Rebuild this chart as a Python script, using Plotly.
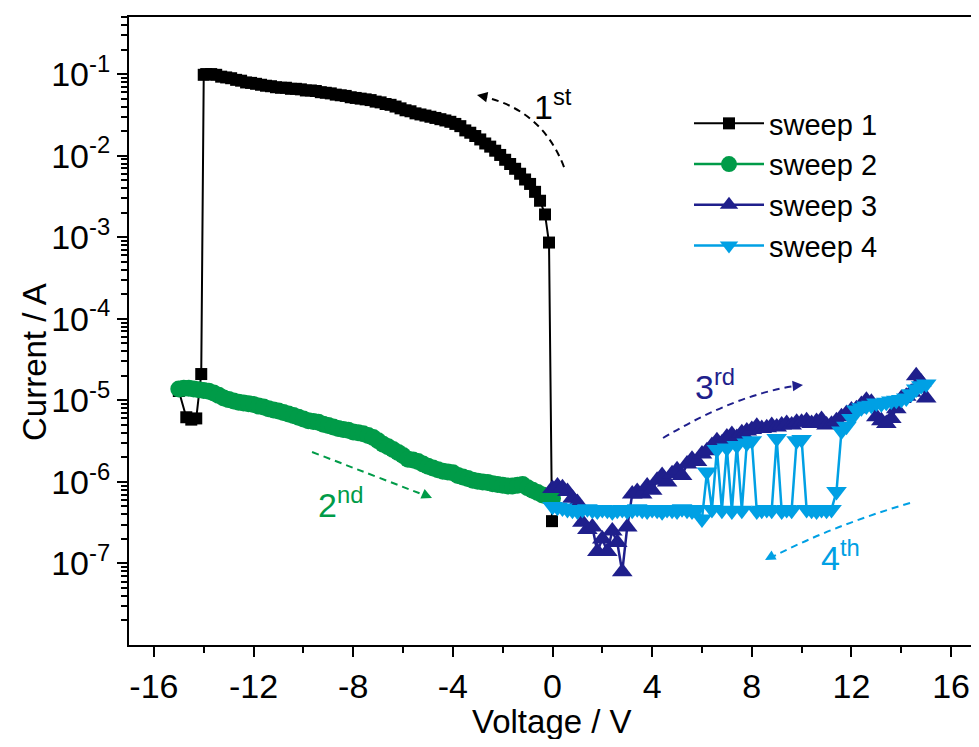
import plotly.graph_objects as go

# ---------------- data ----------------
sweep1_v = [-0.02, -0.14, -0.3, -0.5, -0.7, -0.9, -1.1, -1.3, -1.5, -1.7, -1.9, -2.1, -2.3, -2.5, -2.7,
            -2.9, -3.1, -3.3, -3.5, -3.7, -3.9, -4.1, -4.3, -4.5, -4.7, -4.9, -5.1, -5.3, -5.5, -5.7,
            -5.9, -6.1, -6.3, -6.5, -6.7, -6.9, -7.1, -7.3, -7.5, -7.7, -7.9, -8.1, -8.3, -8.5, -8.7,
            -8.9, -9.1, -9.3, -9.5, -9.7, -9.9, -10.1, -10.3, -10.5, -10.7, -10.9, -11.1, -11.3, -11.5,
            -11.7, -11.9, -12.1, -12.3, -12.5, -12.7, -12.9, -13.1, -13.3, -13.5, -13.7, -13.9, -14.0,
            -14.1, -14.3, -14.5, -14.7, -15.0]
sweep1_i = [3.3e-7, 8.6e-4, 1.9e-3, 2.8e-3, 3.6e-3, 4.5e-3, 5.1e-3, 6.0e-3, 6.9e-3, 7.9e-3, 8.9e-3,
            1.02e-2, 1.15e-2, 1.29e-2, 1.41e-2, 1.58e-2, 1.74e-2, 1.91e-2, 2.04e-2, 2.3e-2, 2.45e-2,
            2.6e-2, 2.7e-2, 2.8e-2, 2.9e-2, 3.0e-2, 3.1e-2, 3.2e-2, 3.3e-2, 3.5e-2, 3.6e-2, 3.8e-2,
            4.0e-2, 4.2e-2, 4.3e-2, 4.5e-2, 4.6e-2, 4.8e-2, 4.9e-2, 5.0e-2, 5.1e-2, 5.2e-2, 5.4e-2,
            5.5e-2, 5.6e-2, 5.8e-2, 5.9e-2, 6.0e-2, 6.2e-2, 6.3e-2, 6.3e-2, 6.5e-2, 6.6e-2, 6.6e-2,
            6.8e-2, 6.8e-2, 6.9e-2, 7.1e-2, 7.2e-2, 7.4e-2, 7.6e-2, 7.8e-2, 7.9e-2, 8.3e-2, 8.5e-2,
            8.9e-2, 9.1e-2, 9.3e-2, 9.8e-2, 1.0e-1, 1.0e-1, 9.8e-2,
            2.1e-5, 6.0e-6, 5.8e-6, 6.2e-6, 1.3e-5]

sweep2_v = [-15.0, -14.8, -14.6, -14.4, -14.2, -14.0, -13.8, -13.6, -13.4, -13.2, -13.0, -12.8, -12.6,
            -12.4, -12.2, -12.0, -11.8, -11.6, -11.4, -11.2, -11.0, -10.8, -10.6, -10.4, -10.2, -10.0,
            -9.8, -9.6, -9.4, -9.2, -9.0, -8.8, -8.6, -8.4, -8.2, -8.0, -7.8, -7.6, -7.4, -7.2, -7.0,
            -6.8, -6.6, -6.4, -6.2, -6.0, -5.8, -5.6, -5.4, -5.2, -5.0, -4.8, -4.6, -4.4, -4.2, -4.0,
            -3.8, -3.6, -3.4, -3.2, -3.0, -2.8, -2.6, -2.4, -2.2, -2.0, -1.8, -1.6, -1.4, -1.2, -1.0,
            -0.8, -0.6, -0.4, -0.2, 0.0]
sweep2_i = [1.38e-5, 1.41e-5, 1.41e-5, 1.38e-5, 1.35e-5, 1.32e-5, 1.29e-5, 1.23e-5, 1.15e-5, 1.07e-5,
            1.02e-5, 9.8e-6, 9.5e-6, 9.3e-6, 9.1e-6, 8.9e-6, 8.5e-6, 8.3e-6, 7.9e-6, 7.6e-6, 7.4e-6,
            7.1e-6, 6.8e-6, 6.5e-6, 6.2e-6, 5.9e-6, 5.6e-6, 5.5e-6, 5.4e-6, 5.1e-6, 4.9e-6, 4.7e-6,
            4.5e-6, 4.4e-6, 4.3e-6, 4.1e-6, 4.0e-6, 3.9e-6, 3.7e-6, 3.5e-6, 3.2e-6, 2.9e-6, 2.7e-6,
            2.5e-6, 2.3e-6, 2.1e-6, 1.9e-6, 1.86e-6, 1.78e-6, 1.66e-6, 1.55e-6, 1.48e-6, 1.41e-6,
            1.35e-6, 1.32e-6, 1.29e-6, 1.2e-6, 1.15e-6, 1.1e-6, 1.05e-6, 1.02e-6, 1.0e-6, 9.8e-7,
            9.5e-7, 9.3e-7, 9.1e-7, 8.9e-7, 8.9e-7, 9.1e-7, 9.3e-7, 8.5e-7, 7.9e-7, 7.4e-7, 6.9e-7,
            6.6e-7, 6.3e-7]

sweep3_v = [0.0, 0.2, 0.4, 0.6, 0.8, 1.0, 1.2, 1.4, 1.6, 1.8, 2.0, 2.2, 2.4, 2.6, 2.8, 3.0, 3.2, 3.4,
            3.6, 3.8, 4.0, 4.2, 4.4, 4.6, 4.8, 5.0, 5.2, 5.4, 5.6, 5.8, 6.0, 6.2, 6.4, 6.6, 6.8, 7.0,
            7.2, 7.4, 7.6, 7.8, 8.0, 8.2, 8.4, 8.6, 8.8, 9.0, 9.2, 9.4, 9.6, 9.8, 10.0, 10.2, 10.4,
            10.6, 10.8, 11.0, 11.2, 11.4, 11.6, 11.8, 12.0, 12.2, 12.4, 12.6, 12.8, 13.0, 13.2, 13.4,
            13.6, 13.8, 14.0, 14.2, 14.4, 14.6, 14.8, 15.0]
sweep3_i = [8.3e-7, 8.9e-7, 8.5e-7, 7.6e-7, 6.3e-7, 5.6e-7, 3.2e-7, 2.6e-7, 2.8e-7, 1.4e-7, 2.0e-7,
            1.4e-7, 2.5e-7, 1.8e-7, 7.9e-8, 2.8e-7, 7.1e-7, 7.6e-7, 7.1e-7, 8.9e-7, 7.9e-7, 1.05e-6,
            1.2e-6, 1.0e-6, 1.26e-6, 1.41e-6, 1.2e-6, 1.66e-6, 1.9e-6, 1.78e-6, 2.2e-6, 2.4e-6,
            2.8e-6, 3.2e-6, 3.0e-6, 3.55e-6, 3.8e-6, 3.5e-6, 4.0e-6, 4.2e-6, 4.4e-6, 4.8e-6, 4.5e-6,
            4.6e-6, 4.9e-6, 4.7e-6, 5.0e-6, 5.2e-6, 5.0e-6, 5.4e-6, 5.4e-6, 5.6e-6, 5.2e-6, 5.5e-6,
            5.8e-6, 5.0e-6, 5.1e-6, 5.6e-6, 6.3e-6, 6.9e-6, 7.6e-6, 7.9e-6, 8.9e-6, 1.0e-5, 9.5e-6,
            6.3e-6, 5.6e-6, 5.2e-6, 6.0e-6, 7.9e-6, 1.05e-5, 1.12e-5, 1.26e-5, 2.0e-5, 1.66e-5,
            1.07e-5]

sweep4_v = [15.0, 14.8, 14.6, 14.4, 14.2, 14.0, 13.8, 13.6, 13.4, 13.2, 13.0, 12.8, 12.6, 12.4, 12.2,
            12.0, 11.8, 11.6, 11.4, 11.2, 11.0, 10.8, 10.6, 10.4, 10.2, 10.0, 9.8, 9.6, 9.4, 9.2, 9.0,
            8.8, 8.6, 8.4, 8.2, 8.0, 7.8, 7.6, 7.4, 7.2, 7.0, 6.8, 6.6, 6.4, 6.2, 6.0, 5.8, 5.6, 5.4,
            5.2, 5.0, 4.8, 4.6, 4.4, 4.2, 4.0, 3.8, 3.6, 3.4, 3.2, 3.0, 2.8, 2.6, 2.4, 2.2, 2.0, 1.8,
            1.6, 1.4, 1.2, 1.0, 0.8, 0.6, 0.4, 0.2, 0.0]
sweep4_i = [1.58e-5, 1.51e-5, 1.38e-5, 1.2e-5, 1.07e-5, 1.02e-5, 1.0e-5, 9.8e-6, 9.5e-6, 9.1e-6,
            9.3e-6, 8.7e-6, 8.5e-6, 8.1e-6, 7.6e-6, 6.0e-6, 4.8e-6, 4.2e-6, 7.6e-7, 4.6e-7, 4.5e-7,
            4.6e-7, 4.4e-7, 4.5e-7, 4.6e-7, 3.3e-6, 3.2e-6, 4.5e-7, 4.6e-7, 4.4e-7, 3.4e-6, 4.5e-7,
            4.6e-7, 4.5e-7, 4.4e-7, 3.2e-6, 3.0e-6, 4.5e-7, 2.8e-6, 4.4e-7, 2.6e-6, 4.5e-7, 2.5e-6,
            4.6e-7, 1.32e-6, 3.5e-7, 4.6e-7, 4.4e-7, 4.5e-7, 4.7e-7, 4.4e-7, 4.5e-7, 4.6e-7, 4.3e-7,
            4.5e-7, 4.6e-7, 4.4e-7, 4.5e-7, 4.7e-7, 4.5e-7, 4.4e-7, 4.6e-7, 4.5e-7, 4.3e-7, 4.5e-7,
            4.6e-7, 4.4e-7, 4.5e-7, 4.7e-7, 4.6e-7, 4.4e-7, 4.5e-7, 4.6e-7, 4.8e-7, 4.9e-7, 5.0e-7]

x_tickvals = [-16, -12, -8, -4, 0, 4, 8, 12, 16]
x_ticktext = ["-16", "-12", "-8", "-4", "0", "4", "8", "12", "16"]
y_tickvals = [1e-7, 1e-6, 1e-5, 1e-4, 1e-3, 1e-2, 1e-1]
y_ticktext = ["10<sup>-7</sup>", "10<sup>-6</sup>", "10<sup>-5</sup>", "10<sup>-4</sup>",
              "10<sup>-3</sup>", "10<sup>-2</sup>", "10<sup>-1</sup>"]

C1, C2, C3, C4 = "#000000", "#009B48", "#1F1F8C", "#00A0E4"
FONT = "Arial, Liberation Sans, Helvetica, sans-serif"

# page has an 8px body margin: size the figure so it fits the 979x747 window
OFF = 8
W, H = 971, 731
ML, MR, MT, MB = 121, 3, 9, 94
PW, PH = W - ML - MR, H - MT - MB


def px(x):
    """page pixel x -> paper fraction"""
    return (x - OFF - ML) / PW


def py(y):
    """page pixel y -> paper fraction"""
    return (H - MB - (y - OFF)) / PH


fig = go.Figure()
fig.add_trace(go.Scatter(x=sweep1_v, y=sweep1_i, mode="lines+markers", name="sweep 1",
                         line=dict(color=C1, width=2),
                         marker=dict(symbol="square", size=12, color=C1)))
fig.add_trace(go.Scatter(x=sweep2_v, y=sweep2_i, mode="lines+markers", name="sweep 2",
                         line=dict(color=C2, width=2.5),
                         marker=dict(symbol="circle", size=17, color=C2)))
fig.add_trace(go.Scatter(x=sweep3_v, y=sweep3_i, mode="lines+markers", name="sweep 3",
                         line=dict(color=C3, width=2.5),
                         marker=dict(symbol="triangle-up", size=18, color=C3)))
fig.add_trace(go.Scatter(x=sweep4_v, y=sweep4_i, mode="lines+markers", name="sweep 4",
                         line=dict(color=C4, width=2.5),
                         marker=dict(symbol="triangle-down", size=18, color=C4)))


# dashed direction arrows (paper coordinates)
def qpath(p0, c, p1):
    return "M {:.4f},{:.4f} Q {:.4f},{:.4f} {:.4f},{:.4f}".format(
        px(p0[0]), py(p0[1]), px(c[0]), py(c[1]), px(p1[0]), py(p1[1]))


arrows = [
    ((564, 167), (542, 110), (484, 97), C1, (477, 95), 10, 2),
    ((312, 452), (372, 475), (424, 495), C2, (432, 498), -9, -4),
    ((663, 438), (735, 395), (795, 386), C3, (803, 385), -10, 1),
    ((910, 503), (835, 525), (772, 557), C4, (765, 560), 9, -5),
]
shapes = []
annotations = []
for p0, c, p1, col, head, ax, ay in arrows:
    shapes.append(dict(type="path", xref="paper", yref="paper", path=qpath(p0, c, p1),
                       line=dict(color=col, width=2, dash="7px,5px")))
    annotations.append(dict(xref="paper", yref="paper", x=px(head[0]), y=py(head[1]), text="",
                            showarrow=True, ax=ax, ay=ay, arrowhead=2, arrowsize=1.3,
                            arrowwidth=1.6, arrowcolor=col))

labels = [("1<sup>st</sup>", (553, 104), C1), ("2<sup>nd</sup>", (340, 503), C2),
          ("3<sup>rd</sup>", (715, 384), C3), ("4<sup>th</sup>", (840, 555), C4)]
for txt, (x, y), col in labels:
    annotations.append(dict(xref="paper", yref="paper", x=px(x), y=py(y), text=txt,
                            showarrow=False, font=dict(family=FONT, size=34, color=col),
                            xanchor="center", yanchor="middle"))

# axis titles
annotations.append(dict(xref="paper", yref="paper", x=px(552), y=py(721), text="Voltage / V",
                        showarrow=False, font=dict(family=FONT, size=33, color="black"),
                        xanchor="center", yanchor="middle"))
annotations.append(dict(xref="paper", yref="paper", x=px(35), y=py(362), text="Current / A",
                        showarrow=False, textangle=-90,
                        font=dict(family=FONT, size=33, color="black"),
                        xanchor="center", yanchor="middle"))

minor_y = [k * 10.0 ** e for e in range(-8, 0) for k in range(2, 10) if k * 10.0 ** e <= 0.5]

fig.update_layout(
    width=W, height=H,
    margin=dict(l=ML, r=MR, t=MT, b=MB, autoexpand=False),
    paper_bgcolor="white", plot_bgcolor="white",
    font=dict(family=FONT, color="black"),
    showlegend=True,
    legend=dict(x=px(689), y=py(98), xanchor="left", yanchor="top",
                font=dict(family=FONT, size=29, color="black"),
                bgcolor="rgba(0,0,0,0)", itemwidth=70, tracegroupgap=0),
    shapes=shapes,
    annotations=annotations,
    xaxis=dict(range=[-17, 17], tickmode="array", tickvals=x_tickvals, ticktext=x_ticktext,
               automargin=False,
               ticks="outside", ticklen=10, tickwidth=2, tickcolor="black",
               minor=dict(tickmode="array", tickvals=[-14, -10, -6, -2, 2, 6, 10, 14],
                          ticks="outside", ticklen=6, tickwidth=2, tickcolor="black"),
               showline=True, linewidth=2, linecolor="black", mirror=True,
               showgrid=False, zeroline=False,
               tickfont=dict(family=FONT, size=34)),
    yaxis=dict(type="log", range=[-8, -0.3], tickmode="array", tickvals=y_tickvals,
               ticktext=y_ticktext, automargin=False,
               ticks="outside", ticklen=10, tickwidth=2, tickcolor="black",
               minor=dict(tickmode="array", tickvals=minor_y, ticks="outside", ticklen=6,
                          tickwidth=1.5, tickcolor="black"),
               showline=True, linewidth=2, linecolor="black", mirror=True,
               showgrid=False, zeroline=False,
               tickfont=dict(family=FONT, size=34)),
)

fig.write_html("out.html")
